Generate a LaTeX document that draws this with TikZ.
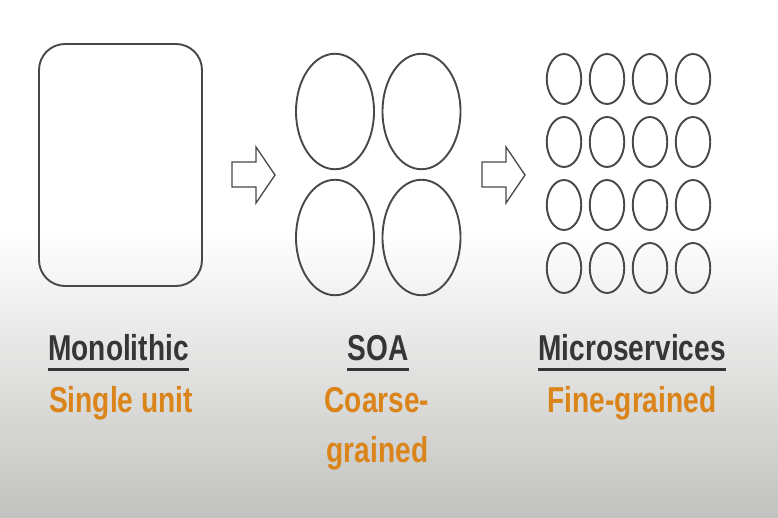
\documentclass[tikz,border=0pt]{standalone}
\usepackage{fontspec}
\setmainfont{Liberation Sans}[FakeStretch=0.78]
\usetikzlibrary{shapes.geometric,positioning}
\definecolor{lineGray}{HTML}{484848}
\definecolor{headGray}{HTML}{363636}
\definecolor{grainOrange}{HTML}{DA8419}
\definecolor{floorGray}{HTML}{C2C2C0}

\begin{document}
\begin{tikzpicture}[x=1pt,y=-1pt,
  unit/.style={draw=lineGray,line width=1.9pt,rounded corners=26pt,minimum width=163pt,minimum height=242pt,inner sep=0pt},
  coarse/.style={ellipse,draw=lineGray,line width=1.9pt,minimum width=78pt,minimum height=115.5pt,inner sep=0pt},
  fine/.style={ellipse,draw=lineGray,line width=1.9pt,minimum width=34.5pt,minimum height=50pt,inner sep=0pt},
  stagearrow/.style={draw=lineGray,line width=1.3pt,fill=white,line join=miter},
  heading/.style={anchor=base,text=headGray,font=\bfseries\fontsize{36}{40}\selectfont,inner sep=0pt},
  grain/.style={anchor=base,text=grainOrange,font=\bfseries\fontsize{36}{40}\selectfont,inner sep=0pt},
  uline/.style={draw=headGray,line width=3.5pt}]
\useasboundingbox (0,0) rectangle (778,518);
% background
\fill[white] (0,0) rectangle (778,230);
\shade[top color=white,bottom color=floorGray] (0,230) rectangle (778,518);
% monolithic block
\node[unit] (mono) at (120.5,165) {};
% soa services
\node[coarse] (soa11) at (335,111.5) {};
\node[coarse] (soa12) at (421.5,111.5) {};
\node[coarse] (soa21) at (335,237.5) {};
\node[coarse] (soa22) at (421.5,237.5) {};
% microservices grid
\foreach \row in {1,...,4}
  \foreach \col in {1,...,4}
    \node[fine] (ms\row\col) at ({521+43*\col},{16+63*\row}) {};
% block arrows
\foreach \dx in {0,250}
  \draw[stagearrow,xshift=\dx] (232,162) -- (256,162) -- (256,147) -- (275,175)
    -- (256,203) -- (256,187) -- (232,187) -- cycle;
% labels
\node[heading] (monoTitle) at (118.5,360) {Monolithic};
\node[heading] (soaTitle) at (378,360) {SOA};
\node[heading] (msTitle) at (632,360) {Microservices};
\foreach \t in {monoTitle,soaTitle,msTitle}
  \draw[uline] ([yshift=-9.5pt]\t.base west) -- ([yshift=-9.5pt]\t.base east);
\node[grain] (monoGrain) at (121,412) {Single unit};
\node[grain] (soaGrainA) at (377,412) {Coarse-};
\node[grain] (soaGrainB) at (377.5,462) {grained};
\node[grain] (msGrain) at (632,412) {Fine-grained};
\end{tikzpicture}
\end{document}
